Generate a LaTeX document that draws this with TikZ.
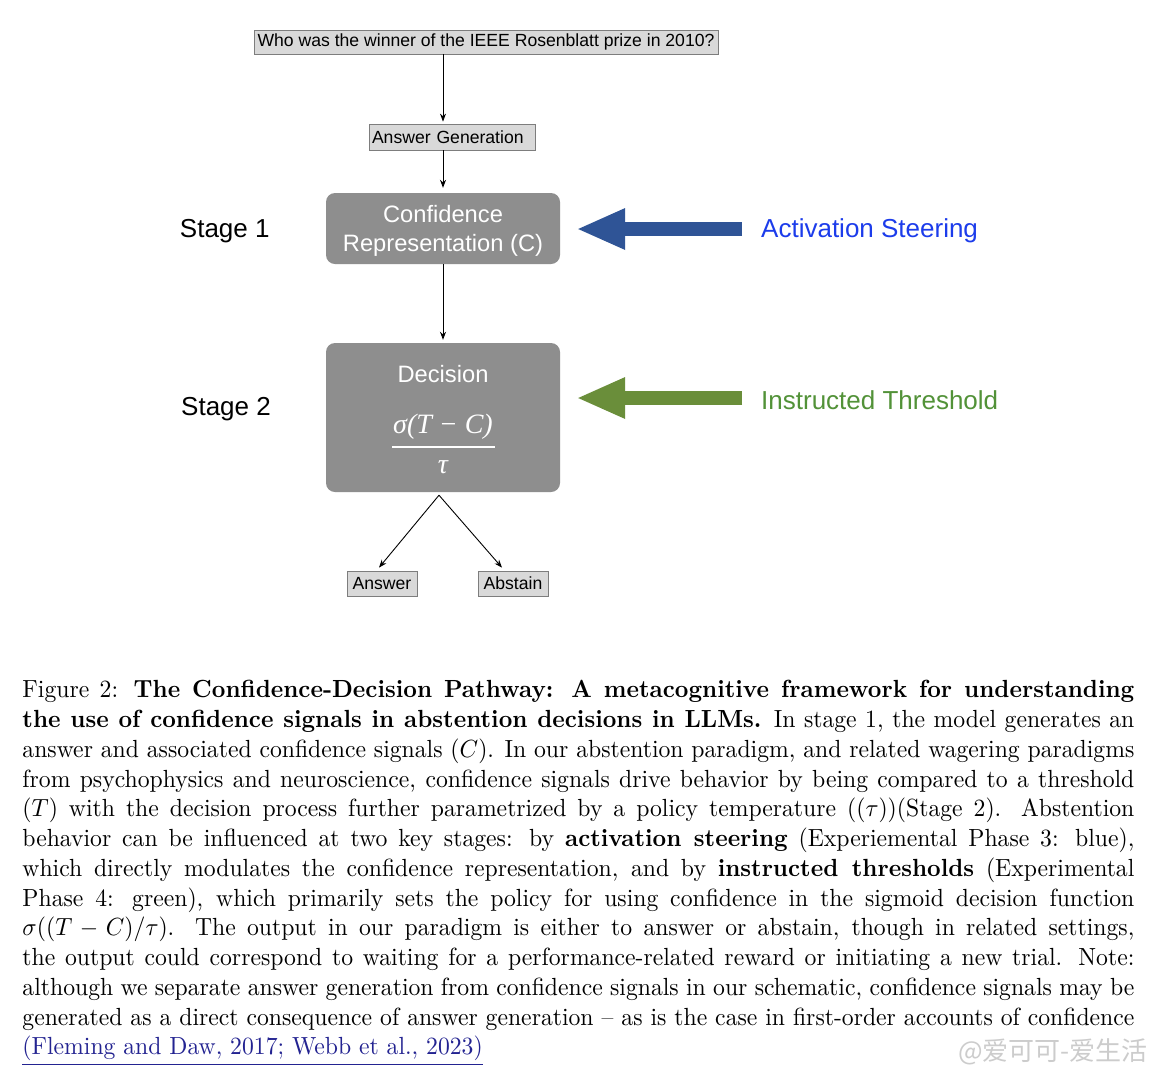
\documentclass[tikz,border=0pt]{standalone}
\usepackage{fontspec}
\usepackage{xcolor}
\usepackage{tikz}
\usetikzlibrary{arrows.meta,positioning}

\newfontfamily\helv{Liberation Sans}
\newfontfamily\timesit{Liberation Serif}
\newfontfamily\cjk{Noto Sans CJK SC}

\definecolor{boxgray}{RGB}{142,142,142}
\definecolor{lightbox}{RGB}{217,217,217}
\definecolor{boxline}{RGB}{125,125,125}
\definecolor{steerblue}{RGB}{47,84,150}
\definecolor{steertext}{RGB}{28,60,235}
\definecolor{threshgreen}{RGB}{106,142,58}
\definecolor{threshtext}{RGB}{82,146,56}
\definecolor{citeblue}{RGB}{35,35,145}

\begin{document}
\begin{tikzpicture}[
    x=1pt, y=-1pt,
    qbox/.style={rectangle, draw=boxline, fill=lightbox, line width=0.8pt, inner sep=0pt, font=\helv\fontsize{17.6}{20}\selectfont},
    stagebox/.style={rectangle, rounded corners=9pt, fill=boxgray, minimum width=234pt, inner sep=0pt},
    boxtext/.style={text=white, align=center, inner sep=0pt, font=\helv\fontsize{23.7}{29}\selectfont},
    stagelabel/.style={inner sep=0pt, font=\helv\fontsize{26}{30}\selectfont},
    ctrllabel/.style={anchor=west, inner sep=0pt, font=\helv\fontsize{26}{30}\selectfont},
    arrow/.style={->, >={Stealth[length=8pt,width=6pt]}, line width=0.9pt},
    blockarrow/.style={line width=14pt, -{Triangle[length=47pt,width=42pt,line width=0pt]}},
    caption/.style={anchor=north west, inner sep=0pt, text width=469.75pt, align=justify, font=\fontsize{10}{12}\selectfont}
]
    \useasboundingbox (0,0) rectangle (1159,1080);
    \fill[white] (0,0) rectangle (1159,1080);

    % main column
    \node[qbox, minimum width=464pt, minimum height=24pt] (question) at (486,42) {Who was the winner of the IEEE Rosenblatt prize in 2010?};
    \node[qbox, text width=160pt, inner xsep=3pt, minimum height=26pt, align=left] (ansgen) at (452,137) {Answer Generation};
    \node[stagebox, minimum height=71pt] (conf) at (443,228.5) {};
    \node[boxtext] (conftext) at (443,231) {Confidence\\Representation (C)};
    \node[stagebox, minimum height=149pt] (decision) at (443,417.5) {};
    \node[boxtext] (dectitle) at (443,374) {Decision};
    \node[boxtext, font=\timesit\itshape\fontsize{28}{30}\selectfont] (num) at (443,427) {σ(T − C)};
    \node[boxtext, font=\timesit\itshape\fontsize{28}{30}\selectfont] (den) at (443,467) {τ};
    \draw[white, line width=1.2pt] ([xshift=-1pt,yshift=-7pt]num.south west) -- ([xshift=2pt,yshift=-7pt]num.south east);
    \node[qbox, minimum width=70pt, minimum height=25pt] (answer) at (382,583.5) {Answer};
    \node[qbox, minimum width=70pt, minimum height=25pt] (abstain) at (513,583.5) {Abstain};

    % stages
    \node[stagelabel, left=56pt of conf, yshift=-2.5pt] (stage1) {Stage 1};
    \node[stagelabel] (stage2) at (226,409.5) {Stage 2};

    % interventions
    \node[ctrllabel, text=steertext] (steerlbl) at (761,231) {Activation Steering};
    \node[ctrllabel, text=threshtext] (threshlbl) at (761,400) {Instructed Threshold};
    \draw[blockarrow, steerblue] ([xshift=-19pt,yshift=2pt]steerlbl.west) -- ([xshift=18pt,yshift=2pt]steerlbl.west -| conf.east);
    \draw[blockarrow, threshgreen] ([xshift=-19pt,yshift=2pt]threshlbl.west) -- ([xshift=18pt,yshift=2pt]threshlbl.west -| decision.east);

    \draw[arrow] (question.south -| conf.north) -- ([yshift=2pt]ansgen.north -| conf.north);
    \draw[arrow] (ansgen.south -| conf.north) -- ([yshift=5pt]conf.north);
    \draw[arrow] (conf.south) -- ([yshift=3pt]decision.north);
    \coordinate (split) at ([xshift=-4pt,yshift=-3pt]decision.south);
    \draw[arrow] (split) -- ([xshift=-3pt,yshift=3pt]answer.north);
    \draw[arrow] (split) -- ([xshift=-11pt,yshift=3pt]abstain.north);

    % caption, set at 10pt and scaled up
    \begin{scope}[shift={(22,680)}, xscale=2.367, yscale=2.479, transform shape]
    \node[caption] (cap) at (0,0) {\hyphenpenalty=10000
        Figure 2: \textbf{The Confidence-Decision Pathway: A metacognitive framework for understanding\linebreak
        the use of confidence signals in abstention decisions in LLMs.} In stage 1, the model generates an\linebreak
        answer and associated confidence signals $(C)$. In our abstention paradigm, and related wagering paradigms\linebreak
        from psychophysics and neuroscience, confidence signals drive behavior by being compared to a threshold\linebreak
        $(T)$ with the decision process further parametrized by a policy temperature $((\tau))$(Stage 2). Abstention\linebreak
        behavior can be influenced at two key stages: by \textbf{activation steering} (Experiemental Phase 3: blue),\linebreak
        which directly modulates the confidence representation, and by \textbf{instructed thresholds} (Experimental\linebreak
        Phase 4: green), which primarily sets the policy for using confidence in the sigmoid decision function\linebreak
        $\sigma((T-C)/\tau)$. The output in our paradigm is either to answer or abstain, though in related settings,\linebreak
        the output could correspond to waiting for a performance-related reward or initiating a new trial. Note:\linebreak
        although we separate answer generation from confidence signals in our schematic, confidence signals may be\linebreak
        generated as a direct consequence of answer generation -- as is the case in first-order accounts of confidence\linebreak
        {\color{citeblue}\underline{(Fleming and Daw, 2017; Webb et al., 2023)}}};
    \end{scope}

    \node[anchor=east, inner sep=0pt, text=gray!40, font=\cjk\fontsize{26}{30}\selectfont] (mark) at (1148,1052) {@爱可可-爱生活};
\end{tikzpicture}
\end{document}
